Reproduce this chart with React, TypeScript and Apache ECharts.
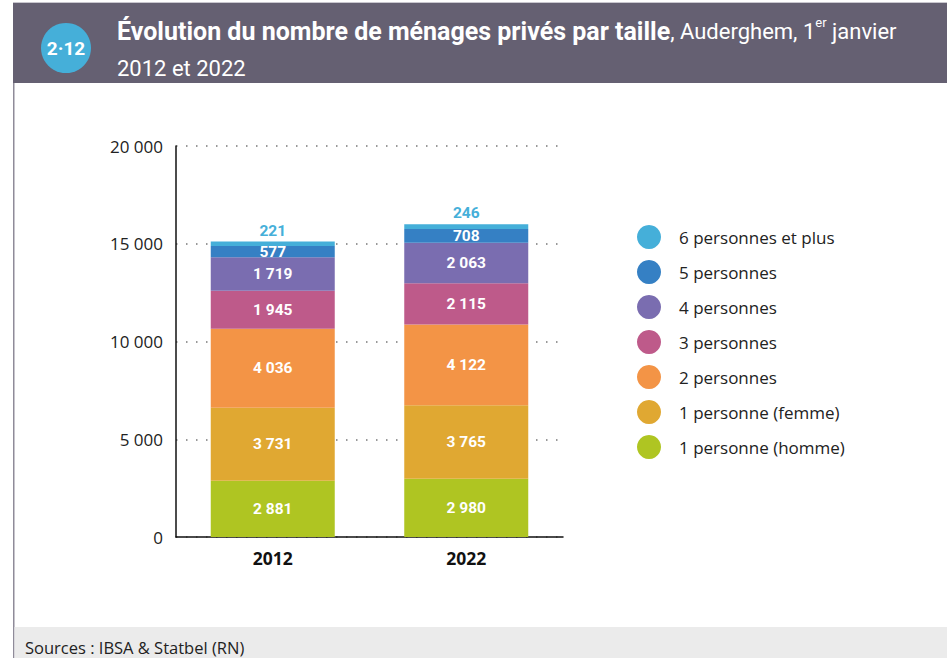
import React, { useEffect, useRef } from "react";
import * as echarts from "echarts";

const categories = ["2012", "2022"];
const seriesNames = [
  "1 personne (homme)",
  "1 personne (femme)",
  "2 personnes",
  "3 personnes",
  "4 personnes",
  "5 personnes",
  "6 personnes et plus",
];
const homme = [2881, 2980];
const femme = [3731, 3765];
const deux = [4036, 4122];
const trois = [1945, 2115];
const quatre = [1719, 2063];
const cinq = [577, 708];
const sixPlus = [221, 246];
const yTicks = [0, 5000, 10000, 15000, 20000];
const colors = ["#afc522", "#e0a832", "#f39446", "#be5a8a", "#7a6db0", "#3580c4", "#45afd9"];

const fmt = (v: number) => String(v).replace(/\B(?=(\d{3})+(?!\d))/g, " ");

const labelFont = "Roboto, sans-serif";
const body = "'Open Sans', 'Noto Sans', sans-serif";

export default function App() {
  const ref = useRef<HTMLDivElement>(null);
  useEffect(() => {
    if (!ref.current) return;
    const chart = echarts.init(ref.current, undefined, { renderer: "svg" });
    const values = [homme, femme, deux, trois, quatre, cinq, sixPlus];
    const series = values.map((data, i) => {
      const last = i === values.length - 1;
      return {
        name: seriesNames[i],
        type: "bar",
        stack: "total",
        barWidth: 124,
        data,
        itemStyle: { color: colors[i] },
        label: {
          show: true,
          position: last ? "top" : "inside",
          distance: last ? 3 : 0,
          formatter: (p: any) => fmt(p.value),
          color: last ? "#45afd9" : "#ffffff",
          fontFamily: labelFont,
          fontWeight: "bold",
          fontSize: 15.5,
        },
      };
    });
    chart.setOption({
      animation: false,
      backgroundColor: "#ffffff",
      grid: { left: 176, right: 384, top: 146, bottom: 121 },
      legend: {
        orient: "vertical",
        left: 632,
        top: 220,
        icon: "circle",
        itemWidth: 24,
        itemHeight: 24,
        itemGap: 11,
        data: seriesNames.slice().reverse(),
        textStyle: { fontFamily: body, fontSize: 17, color: "#222", padding: [0, 0, 0, 13] },
        selectedMode: false,
      },
      xAxis: {
        type: "category",
        data: categories,
        axisLine: { lineStyle: { color: "#111", width: 1.5 } },
        axisTick: { show: false },
        axisLabel: { fontFamily: body, fontWeight: "bold", fontSize: 17.5, color: "#111", margin: 12 },
      },
      yAxis: {
        type: "value",
        min: yTicks[0],
        max: yTicks[yTicks.length - 1],
        interval: yTicks[1] - yTicks[0],
        axisLine: { show: true, lineStyle: { color: "#111", width: 1.5 } },
        axisTick: { show: false },
        axisLabel: { formatter: (v: number) => fmt(v), fontFamily: body, fontSize: 17, color: "#222", margin: 13 },
        splitLine: { show: true, lineStyle: { color: "#777", width: 1.5, type: [1.5, 8.5] } },
      },
      series,
      graphic: [
        { type: "rect", shape: { x: 13, y: 2, width: 934, height: 1 }, style: { fill: "#c9c7cf" } },
        { type: "rect", shape: { x: 13, y: 3, width: 934, height: 80 }, style: { fill: "#656072" } },
        { type: "rect", shape: { x: 13, y: 83, width: 1.5, height: 575 }, style: { fill: "#8f8b99" } },
        { type: "rect", shape: { x: 14.5, y: 627, width: 933, height: 31 }, style: { fill: "#ebebeb" } },
        { type: "circle", shape: { cx: 66, cy: 48, r: 25 }, style: { fill: "#45afd9" } },
        {
          type: "text",
          x: 66,
          y: 48,
          style: {
            text: "2·12",
            fill: "#fff",
            fontFamily: "Roboto, sans-serif",
            fontWeight: "bold",
            fontSize: 19,
            align: "center",
            verticalAlign: "middle",
          },
        },
        {
          type: "text",
          x: 117,
          y: 31,
          style: {
            text: "{b|Évolution du nombre de ménages privés par taille}{r|, Auderghem, 1}{s|er}{r| janvier}",
            verticalAlign: "middle",
            rich: {
              b: { fontFamily: "Roboto, sans-serif", fontWeight: "bold", fontSize: 25, fill: "#fff", lineHeight: 30, verticalAlign: "middle" },
              r: { fontFamily: "Roboto, sans-serif", fontSize: 22, fill: "#fff", lineHeight: 30, verticalAlign: "middle" },
              s: { fontFamily: "Roboto, sans-serif", fontSize: 13, fill: "#fff", lineHeight: 24, verticalAlign: "top" },
            },
          },
        },
        {
          type: "text",
          x: 117,
          y: 68,
          style: {
            text: "2012 et 2022",
            fill: "#fff",
            fontFamily: "Roboto, sans-serif",
            fontSize: 22,
            verticalAlign: "middle",
          },
        },
        {
          type: "text",
          x: 25,
          y: 647,
          style: {
            text: "Sources : IBSA & Statbel (RN)",
            fill: "#222",
            fontFamily: body,
            fontSize: 16.5,
            verticalAlign: "middle",
          },
        },
      ],
    });
    return () => chart.dispose();
  }, []);
  return <div ref={ref} style={{ position: "fixed", left: 0, top: 0, width: 947, height: 658 }} />;
}
